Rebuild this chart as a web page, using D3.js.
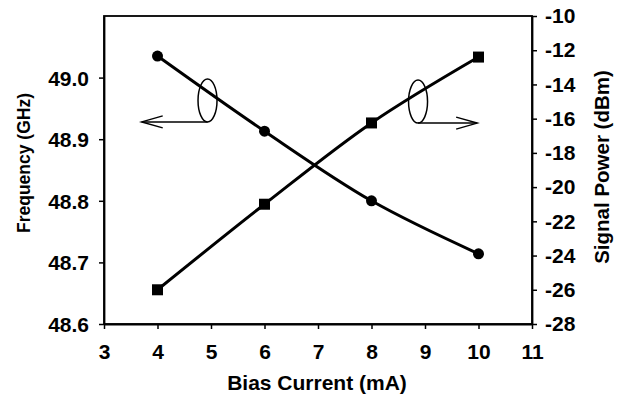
<!DOCTYPE html>
<html>
<head>
<meta charset="utf-8">
<script src="https://cdn.jsdelivr.net/npm/d3@7"></script>
<style>
  html, body { margin: 0; padding: 0; background: #fff; }
  svg text { font-family: "Liberation Sans", Arial, sans-serif; font-weight: bold; fill: #000; }
</style>
</head>
<body>
<svg id="chart" width="628" height="403"></svg>
<script>
const biasCurrent = [4, 6, 8, 10];
const frequencyGHz = [49.035, 48.913, 48.800, 48.714];
const signalPowerDbm = [-26.0, -21.0, -16.25, -12.4];
const xTicks = [3, 4, 5, 6, 7, 8, 9, 10, 11];
const yLeftTicks = [48.6, 48.7, 48.8, 48.9, 49.0];
const yRightTicks = [-28, -26, -24, -22, -20, -18, -16, -14, -12, -10];
const xTitle = "Bias Current (mA)";
const yLeftTitle = "Frequency (GHz)";
const yRightTitle = "Signal Power (dBm)";

const svg = d3.select("#chart");
const m = { left: 104, right: 532, top: 16, bottom: 324 };

const x = d3.scaleLinear().domain([3, 11]).range([m.left, m.right]);
const yL = d3.scaleLinear().domain([48.6, 49.1]).range([m.bottom, m.top]);
const yR = d3.scaleLinear().domain([-28, -10]).range([m.bottom, m.top]);

function styleAxis(g) {
  g.selectAll("path").attr("stroke", "#000").attr("stroke-width", 1.8);
  g.selectAll("line").attr("stroke", "#000").attr("stroke-width", 1.5);
  g.selectAll("text").style("font-size", "21px").style("font-family", "Liberation Sans, Arial, sans-serif").style("font-weight", "bold").attr("fill", "#000");
}

// frame
svg.append("rect").attr("x", m.left).attr("y", m.top)
  .attr("width", m.right - m.left).attr("height", m.bottom - m.top)
  .attr("fill", "none").attr("stroke", "#000").attr("stroke-width", 1.8);

svg.append("g").attr("transform", `translate(0,${m.bottom})`)
  .call(d3.axisBottom(x).tickValues(xTicks).tickFormat(d3.format("d")).tickSize(5).tickPadding(15).tickSizeOuter(0))
  .call(styleAxis);

svg.append("g").attr("transform", `translate(${m.left},0)`)
  .call(d3.axisLeft(yL).tickValues(yLeftTicks).tickFormat(d3.format(".1f")).tickSize(5).tickPadding(10).tickSizeOuter(0))
  .call(styleAxis)
  .selectAll("text").attr("dy", "0.36em");

svg.append("g").attr("transform", `translate(${m.right},0)`)
  .call(d3.axisRight(yR).tickValues(yRightTicks).tickFormat(d => String(d).replace("−", "-")).tickSize(5).tickPadding(8).tickSizeOuter(0))
  .call(styleAxis);

// titles
svg.append("text").attr("x", 317).attr("y", 390)
  .attr("text-anchor", "middle").style("font-size", "21px").text(xTitle);
svg.append("text").attr("transform", `translate(30,163) rotate(-90)`)
  .attr("text-anchor", "middle").style("font-size", "17.5px").text(yLeftTitle);
svg.append("text").attr("transform", `translate(609,167) rotate(-90)`)
  .attr("text-anchor", "middle").style("font-size", "20.5px").text(yRightTitle);

// lines
const freqData = biasCurrent.map((c, i) => [c, frequencyGHz[i]]);
const powData = biasCurrent.map((c, i) => [c, signalPowerDbm[i]]);

svg.append("path").datum(freqData)
  .attr("d", d3.line().x(d => x(d[0])).y(d => yL(d[1])).curve(d3.curveCatmullRom))
  .attr("fill", "none").attr("stroke", "#000").attr("stroke-width", 3);
svg.append("path").datum(powData)
  .attr("d", d3.line().x(d => x(d[0])).y(d => yR(d[1])).curve(d3.curveCatmullRom))
  .attr("fill", "none").attr("stroke", "#000").attr("stroke-width", 3);

svg.selectAll("circle.f").data(freqData).enter().append("circle")
  .attr("cx", d => x(d[0])).attr("cy", d => yL(d[1])).attr("r", 5.5).attr("fill", "#000");
svg.selectAll("rect.p").data(powData).enter().append("rect")
  .attr("x", d => x(d[0]) - 5.5).attr("y", d => yR(d[1]) - 5.5)
  .attr("width", 11).attr("height", 11).attr("fill", "#000");

// annotation ellipses with arrows (in data coords)
function annot(cxv, cyv, tipX, dir) {
  const cx = x(cxv), cy = yL(cyv);
  const rx = 9.5, ry = 21.5;
  svg.append("ellipse").attr("cx", cx).attr("cy", cy).attr("rx", rx).attr("ry", ry)
    .attr("fill", "none").attr("stroke", "#000").attr("stroke-width", 1.5);
  const by = cy + ry;
  const tx = x(tipX);
  svg.append("line").attr("x1", cx).attr("y1", by).attr("x2", tx).attr("y2", by)
    .attr("stroke", "#000").attr("stroke-width", 1.5);
  const back = tx - dir * 21;
  svg.append("path").attr("d", `M${back},${by - 6}L${tx},${by}L${back},${by + 6}`)
    .attr("fill", "none").attr("stroke", "#000").attr("stroke-width", 1.5);
}
annot(4.935, 48.963, 3.705, -1);
annot(8.87, 48.961, 9.975, 1);
</script>
</body>
</html>
